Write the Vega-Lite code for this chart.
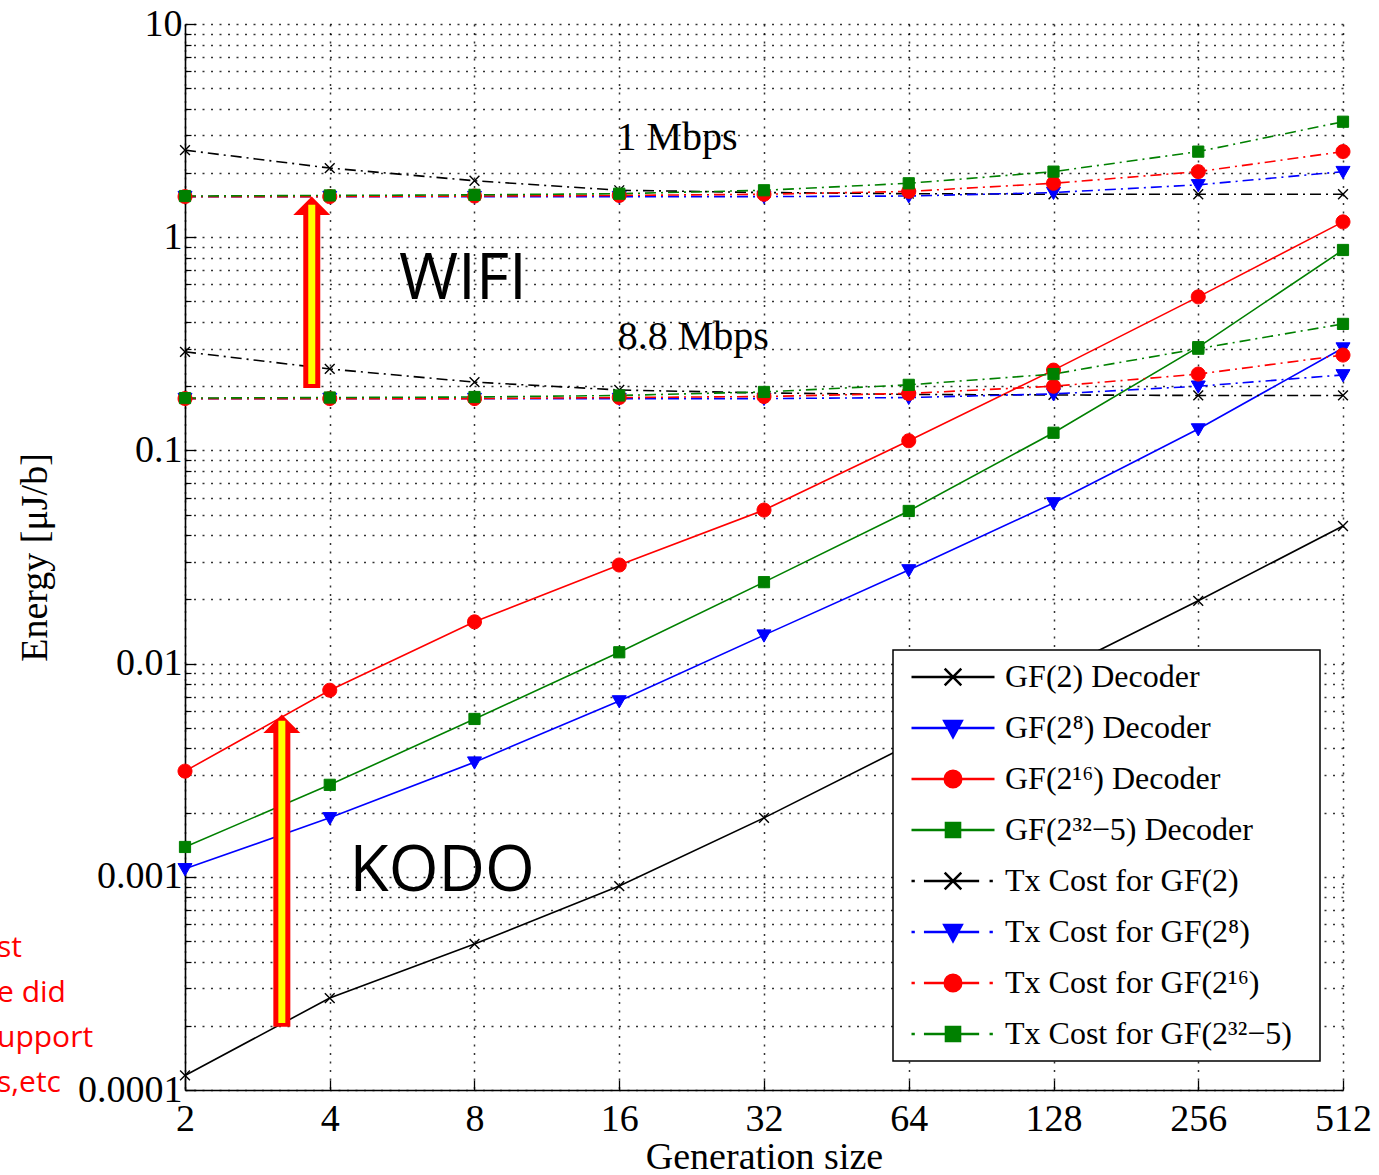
{
  "$schema": "https://vega.github.io/schema/vega-lite/v6.json",
  "width": 1158,
  "height": 1066,
  "autosize": {"type": "none"},
  "padding": {"left": 185, "top": 24, "right": 36, "bottom": 85},
  "background": "white",
  "config": {
    "view": {"stroke": null},
    "font": "Liberation Serif",
    "legend": {"strokeWidth": 1.5}
  },
  "datasets": {
    "series": [
      {"n": 2, "e": 0.000117, "s": "GF(2) Decoder", "r": "dec"},
      {"n": 4, "e": 0.00027, "s": "GF(2) Decoder", "r": "dec"},
      {"n": 8, "e": 0.000484, "s": "GF(2) Decoder", "r": "dec"},
      {"n": 16, "e": 0.000905, "s": "GF(2) Decoder", "r": "dec"},
      {"n": 32, "e": 0.00189, "s": "GF(2) Decoder", "r": "dec"},
      {"n": 64, "e": 0.00415, "s": "GF(2) Decoder", "r": "dec"},
      {"n": 128, "e": 0.00904, "s": "GF(2) Decoder", "r": "dec"},
      {"n": 256, "e": 0.0197, "s": "GF(2) Decoder", "r": "dec"},
      {"n": 512, "e": 0.0442, "s": "GF(2) Decoder", "r": "dec"},
      {"n": 2, "e": 0.00109, "s": "GF(2⁸) Decoder", "r": "dec"},
      {"n": 4, "e": 0.00189, "s": "GF(2⁸) Decoder", "r": "dec"},
      {"n": 8, "e": 0.00345, "s": "GF(2⁸) Decoder", "r": "dec"},
      {"n": 16, "e": 0.00668, "s": "GF(2⁸) Decoder", "r": "dec"},
      {"n": 32, "e": 0.0136, "s": "GF(2⁸) Decoder", "r": "dec"},
      {"n": 64, "e": 0.0275, "s": "GF(2⁸) Decoder", "r": "dec"},
      {"n": 128, "e": 0.0567, "s": "GF(2⁸) Decoder", "r": "dec"},
      {"n": 256, "e": 0.126, "s": "GF(2⁸) Decoder", "r": "dec"},
      {"n": 512, "e": 0.302, "s": "GF(2⁸) Decoder", "r": "dec"},
      {"n": 2, "e": 0.00313, "s": "GF(2¹⁶) Decoder", "r": "dec"},
      {"n": 4, "e": 0.0075, "s": "GF(2¹⁶) Decoder", "r": "dec"},
      {"n": 8, "e": 0.0157, "s": "GF(2¹⁶) Decoder", "r": "dec"},
      {"n": 16, "e": 0.029, "s": "GF(2¹⁶) Decoder", "r": "dec"},
      {"n": 32, "e": 0.0525, "s": "GF(2¹⁶) Decoder", "r": "dec"},
      {"n": 64, "e": 0.111, "s": "GF(2¹⁶) Decoder", "r": "dec"},
      {"n": 128, "e": 0.238, "s": "GF(2¹⁶) Decoder", "r": "dec"},
      {"n": 256, "e": 0.525, "s": "GF(2¹⁶) Decoder", "r": "dec"},
      {"n": 512, "e": 1.18, "s": "GF(2¹⁶) Decoder", "r": "dec"},
      {"n": 2, "e": 0.00138, "s": "GF(2³²−5) Decoder", "r": "dec"},
      {"n": 4, "e": 0.0027, "s": "GF(2³²−5) Decoder", "r": "dec"},
      {"n": 8, "e": 0.0055, "s": "GF(2³²−5) Decoder", "r": "dec"},
      {"n": 16, "e": 0.0113, "s": "GF(2³²−5) Decoder", "r": "dec"},
      {"n": 32, "e": 0.0241, "s": "GF(2³²−5) Decoder", "r": "dec"},
      {"n": 64, "e": 0.052, "s": "GF(2³²−5) Decoder", "r": "dec"},
      {"n": 128, "e": 0.121, "s": "GF(2³²−5) Decoder", "r": "dec"},
      {"n": 256, "e": 0.305, "s": "GF(2³²−5) Decoder", "r": "dec"},
      {"n": 512, "e": 0.871, "s": "GF(2³²−5) Decoder", "r": "dec"},
      {"n": 2, "e": 2.56, "s": "Tx Cost for GF(2)", "r": "1M"},
      {"n": 4, "e": 2.11, "s": "Tx Cost for GF(2)", "r": "1M"},
      {"n": 8, "e": 1.84, "s": "Tx Cost for GF(2)", "r": "1M"},
      {"n": 16, "e": 1.66, "s": "Tx Cost for GF(2)", "r": "1M"},
      {"n": 32, "e": 1.62, "s": "Tx Cost for GF(2)", "r": "1M"},
      {"n": 64, "e": 1.6, "s": "Tx Cost for GF(2)", "r": "1M"},
      {"n": 128, "e": 1.59, "s": "Tx Cost for GF(2)", "r": "1M"},
      {"n": 256, "e": 1.59, "s": "Tx Cost for GF(2)", "r": "1M"},
      {"n": 512, "e": 1.59, "s": "Tx Cost for GF(2)", "r": "1M"},
      {"n": 2, "e": 0.29, "s": "Tx Cost for GF(2)", "r": "8.8M"},
      {"n": 4, "e": 0.241, "s": "Tx Cost for GF(2)", "r": "8.8M"},
      {"n": 8, "e": 0.209, "s": "Tx Cost for GF(2)", "r": "8.8M"},
      {"n": 16, "e": 0.192, "s": "Tx Cost for GF(2)", "r": "8.8M"},
      {"n": 32, "e": 0.186, "s": "Tx Cost for GF(2)", "r": "8.8M"},
      {"n": 64, "e": 0.183, "s": "Tx Cost for GF(2)", "r": "8.8M"},
      {"n": 128, "e": 0.182, "s": "Tx Cost for GF(2)", "r": "8.8M"},
      {"n": 256, "e": 0.181, "s": "Tx Cost for GF(2)", "r": "8.8M"},
      {"n": 512, "e": 0.181, "s": "Tx Cost for GF(2)", "r": "8.8M"},
      {"n": 2, "e": 1.55, "s": "Tx Cost for GF(2⁸)", "r": "1M"},
      {"n": 4, "e": 1.55, "s": "Tx Cost for GF(2⁸)", "r": "1M"},
      {"n": 8, "e": 1.55, "s": "Tx Cost for GF(2⁸)", "r": "1M"},
      {"n": 16, "e": 1.55, "s": "Tx Cost for GF(2⁸)", "r": "1M"},
      {"n": 32, "e": 1.55, "s": "Tx Cost for GF(2⁸)", "r": "1M"},
      {"n": 64, "e": 1.56, "s": "Tx Cost for GF(2⁸)", "r": "1M"},
      {"n": 128, "e": 1.62, "s": "Tx Cost for GF(2⁸)", "r": "1M"},
      {"n": 256, "e": 1.76, "s": "Tx Cost for GF(2⁸)", "r": "1M"},
      {"n": 512, "e": 2.03, "s": "Tx Cost for GF(2⁸)", "r": "1M"},
      {"n": 2, "e": 0.175, "s": "Tx Cost for GF(2⁸)", "r": "8.8M"},
      {"n": 4, "e": 0.175, "s": "Tx Cost for GF(2⁸)", "r": "8.8M"},
      {"n": 8, "e": 0.175, "s": "Tx Cost for GF(2⁸)", "r": "8.8M"},
      {"n": 16, "e": 0.175, "s": "Tx Cost for GF(2⁸)", "r": "8.8M"},
      {"n": 32, "e": 0.175, "s": "Tx Cost for GF(2⁸)", "r": "8.8M"},
      {"n": 64, "e": 0.177, "s": "Tx Cost for GF(2⁸)", "r": "8.8M"},
      {"n": 128, "e": 0.184, "s": "Tx Cost for GF(2⁸)", "r": "8.8M"},
      {"n": 256, "e": 0.2, "s": "Tx Cost for GF(2⁸)", "r": "8.8M"},
      {"n": 512, "e": 0.226, "s": "Tx Cost for GF(2⁸)", "r": "8.8M"},
      {"n": 2, "e": 1.55, "s": "Tx Cost for GF(2¹⁶)", "r": "1M"},
      {"n": 4, "e": 1.55, "s": "Tx Cost for GF(2¹⁶)", "r": "1M"},
      {"n": 8, "e": 1.56, "s": "Tx Cost for GF(2¹⁶)", "r": "1M"},
      {"n": 16, "e": 1.57, "s": "Tx Cost for GF(2¹⁶)", "r": "1M"},
      {"n": 32, "e": 1.59, "s": "Tx Cost for GF(2¹⁶)", "r": "1M"},
      {"n": 64, "e": 1.64, "s": "Tx Cost for GF(2¹⁶)", "r": "1M"},
      {"n": 128, "e": 1.79, "s": "Tx Cost for GF(2¹⁶)", "r": "1M"},
      {"n": 256, "e": 2.03, "s": "Tx Cost for GF(2¹⁶)", "r": "1M"},
      {"n": 512, "e": 2.52, "s": "Tx Cost for GF(2¹⁶)", "r": "1M"},
      {"n": 2, "e": 0.175, "s": "Tx Cost for GF(2¹⁶)", "r": "8.8M"},
      {"n": 4, "e": 0.175, "s": "Tx Cost for GF(2¹⁶)", "r": "8.8M"},
      {"n": 8, "e": 0.175, "s": "Tx Cost for GF(2¹⁶)", "r": "8.8M"},
      {"n": 16, "e": 0.177, "s": "Tx Cost for GF(2¹⁶)", "r": "8.8M"},
      {"n": 32, "e": 0.179, "s": "Tx Cost for GF(2¹⁶)", "r": "8.8M"},
      {"n": 64, "e": 0.185, "s": "Tx Cost for GF(2¹⁶)", "r": "8.8M"},
      {"n": 128, "e": 0.2, "s": "Tx Cost for GF(2¹⁶)", "r": "8.8M"},
      {"n": 256, "e": 0.228, "s": "Tx Cost for GF(2¹⁶)", "r": "8.8M"},
      {"n": 512, "e": 0.28, "s": "Tx Cost for GF(2¹⁶)", "r": "8.8M"},
      {"n": 2, "e": 1.56, "s": "Tx Cost for GF(2³²−5)", "r": "1M"},
      {"n": 4, "e": 1.57, "s": "Tx Cost for GF(2³²−5)", "r": "1M"},
      {"n": 8, "e": 1.58, "s": "Tx Cost for GF(2³²−5)", "r": "1M"},
      {"n": 16, "e": 1.6, "s": "Tx Cost for GF(2³²−5)", "r": "1M"},
      {"n": 32, "e": 1.66, "s": "Tx Cost for GF(2³²−5)", "r": "1M"},
      {"n": 64, "e": 1.79, "s": "Tx Cost for GF(2³²−5)", "r": "1M"},
      {"n": 128, "e": 2.03, "s": "Tx Cost for GF(2³²−5)", "r": "1M"},
      {"n": 256, "e": 2.52, "s": "Tx Cost for GF(2³²−5)", "r": "1M"},
      {"n": 512, "e": 3.48, "s": "Tx Cost for GF(2³²−5)", "r": "1M"},
      {"n": 2, "e": 0.176, "s": "Tx Cost for GF(2³²−5)", "r": "8.8M"},
      {"n": 4, "e": 0.177, "s": "Tx Cost for GF(2³²−5)", "r": "8.8M"},
      {"n": 8, "e": 0.178, "s": "Tx Cost for GF(2³²−5)", "r": "8.8M"},
      {"n": 16, "e": 0.181, "s": "Tx Cost for GF(2³²−5)", "r": "8.8M"},
      {"n": 32, "e": 0.188, "s": "Tx Cost for GF(2³²−5)", "r": "8.8M"},
      {"n": 64, "e": 0.203, "s": "Tx Cost for GF(2³²−5)", "r": "8.8M"},
      {"n": 128, "e": 0.228, "s": "Tx Cost for GF(2³²−5)", "r": "8.8M"},
      {"n": 256, "e": 0.3, "s": "Tx Cost for GF(2³²−5)", "r": "8.8M"},
      {"n": 512, "e": 0.392, "s": "Tx Cost for GF(2³²−5)", "r": "8.8M"}
    ],
    "arrows": [
      {"x": 3.67, "yb": 0.196, "yi": 0.205, "yh": 1.27, "yt": 1.42},
      {"x": 3.18, "yb": 0.000198, "yi": 0.000206, "yh": 0.00472, "yt": 0.0054}
    ],
    "rates": [
      {"x": 21.1, "y": 2.92, "t": "1 Mbps"},
      {"x": 22.8, "y": 0.34, "t": "8.8 Mbps"}
    ],
    "big": [
      {"x": 7.57, "y": 0.63, "t": "WIFI"},
      {"x": 6.85, "y": 0.001054, "t": "KODO"}
    ],
    "notes": [
      {"x": 0.813, "y": 0.000464, "t": "st"},
      {"x": 0.813, "y": 0.000285, "t": "e did"},
      {"x": 0.813, "y": 0.000175, "t": "upport"},
      {"x": 0.813, "y": 0.000108, "t": "s,etc"}
    ]
  },
  "layer": [
    {
      "data": {"name": "series"},
      "transform": [{"filter": "false"}],
      "mark": {"type": "point", "filled": true, "opacity": 1, "strokeWidth": 2.5},
      "encoding": {
        "x": {
          "field": "n", "type": "quantitative",
          "scale": {"type": "log", "base": 2, "domain": [2, 512], "nice": false},
          "axis": {
            "values": [2, 4, 8, 16, 32, 64, 128, 256, 512],
            "format": "d",
            "labelFont": "Liberation Serif", "labelFontSize": 38, "labelColor": "black",
            "labelFlush": false, "labelOverlap": false, "labelPadding": 20,
            "tickSize": -10, "tickColor": "black", "tickWidth": 1.3,
            "domainColor": "black", "domainWidth": 1.6,
            "grid": true, "gridDash": [2, 6.5], "gridColor": "black", "gridOpacity": 0.8, "gridWidth": 1.5,
            "title": "Generation size",
            "titleFont": "Liberation Serif", "titleFontSize": 38, "titleFontWeight": "normal", "titleColor": "black",
            "titleY": 67, "titleBaseline": "middle"
          }
        },
        "y": {
          "field": "e", "type": "quantitative",
          "scale": {"type": "log", "domain": [0.0001, 10], "nice": false},
          "axis": {
            "orient": "left",
            "values": [0.0001, 0.001, 0.01, 0.1, 1, 10],
            "format": "~g",
            "labelFont": "Liberation Serif", "labelFontSize": 38, "labelColor": "black",
            "labelOverlap": false, "labelPadding": 14, "labelFlush": false,
            "tickSize": -11, "tickColor": "black", "tickWidth": 1.3,
            "domainColor": "black", "domainWidth": 1.6,
            "grid": true, "gridDash": [2, 6.5], "gridColor": "black", "gridOpacity": 0.8, "gridWidth": 1.5,
            "title": "Energy [μJ/b]",
            "titleFont": "Liberation Serif", "titleFontSize": 38, "titleFontWeight": "normal", "titleColor": "black",
            "titleX": -150, "titleY": 533, "titleAngle": -90, "titleAlign": "center", "titleBaseline": "middle"
          }
        },
        "fill": {
          "field": "s", "type": "nominal",
          "scale": {
            "domain": ["GF(2) Decoder", "GF(2⁸) Decoder", "GF(2¹⁶) Decoder", "GF(2³²−5) Decoder", "Tx Cost for GF(2)", "Tx Cost for GF(2⁸)", "Tx Cost for GF(2¹⁶)", "Tx Cost for GF(2³²−5)"],
            "range": ["#000000", "#0000ff", "#ff0000", "#008000", "#000000", "#0000ff", "#ff0000", "#008000"]
          },
          "legend": {
            "orient": "none", "legendX": 708, "legendY": 626,
            "title": null,
            "labelFont": "Liberation Serif", "labelFontSize": 32, "labelColor": "black", "labelLimit": 600,
            "labelExpr": "datum.label + '\u2800'",
            "symbolSize": 6889, "symbolStrokeWidth": 2.5, "symbolOpacity": 1,
            "clipHeight": 44, "rowPadding": 7,
            "padding": 5, "symbolOffset": 12, "labelOffset": 9,
            "strokeColor": "black", "fillColor": "white"
          }
        },
        "stroke": {
          "field": "s", "type": "nominal",
          "scale": {
            "domain": ["GF(2) Decoder", "GF(2⁸) Decoder", "GF(2¹⁶) Decoder", "GF(2³²−5) Decoder", "Tx Cost for GF(2)", "Tx Cost for GF(2⁸)", "Tx Cost for GF(2¹⁶)", "Tx Cost for GF(2³²−5)"],
            "range": ["#000000", "#0000ff", "#ff0000", "#008000", "#000000", "#0000ff", "#ff0000", "#008000"]
          }
        },
        "shape": {
          "field": "s", "type": "nominal",
          "scale": {
            "domain": ["GF(2) Decoder", "GF(2⁸) Decoder", "GF(2¹⁶) Decoder", "GF(2³²−5) Decoder", "Tx Cost for GF(2)", "Tx Cost for GF(2⁸)", "Tx Cost for GF(2¹⁶)", "Tx Cost for GF(2³²−5)"],
            "range": [
              "M-1,0H1M-0.2,-0.2L0.2,0.2M-0.2,0.2L0.2,-0.2",
              "M-1,0H1M-0.21,-0.17L0.21,-0.17L0,0.22Z",
              "M-1,0H1M0.2,0A0.2,0.2,0,1,1,-0.2,0A0.2,0.2,0,1,1,0.2,0Z",
              "M-1,0H1M-0.17,-0.17H0.17V0.17H-0.17Z",
              "M-1,0H-0.92M-0.7,0H0.63M0.88,0H0.96M-0.2,-0.2L0.2,0.2M-0.2,0.2L0.2,-0.2",
              "M-1,0H-0.92M-0.7,0H0.63M0.88,0H0.96M-0.21,-0.17L0.21,-0.17L0,0.22Z",
              "M-1,0H-0.92M-0.7,0H0.63M0.88,0H0.96M0.2,0A0.2,0.2,0,1,1,-0.2,0A0.2,0.2,0,1,1,0.2,0Z",
              "M-1,0H-0.92M-0.7,0H0.63M0.88,0H0.96M-0.17,-0.17H0.17V0.17H-0.17Z"
            ]
          }
        }
      }
    },
    {
      "data": {"name": "series"},
      "transform": [{"filter": "datum.r === 'dec'"}],
      "mark": {"type": "line", "strokeWidth": 1.6},
      "encoding": {
        "x": {"field": "n", "type": "quantitative"},
        "y": {"field": "e", "type": "quantitative", "axis": null},
        "stroke": {"field": "s", "type": "nominal"}
      }
    },
    {
      "data": {"name": "series"},
      "transform": [{"filter": "datum.r !== 'dec'"}],
      "mark": {"type": "line", "strokeWidth": 1.6, "strokeDash": [11, 5, 2, 5]},
      "encoding": {
        "x": {"field": "n", "type": "quantitative"},
        "y": {
          "field": "e", "type": "quantitative",
          "axis": {
            "orient": "left",
            "values": [0.0002, 0.0003, 0.0004, 0.0005, 0.0006, 0.0007, 0.0008, 0.0009, 0.002, 0.003, 0.004, 0.005, 0.006, 0.007, 0.008, 0.009, 0.02, 0.03, 0.04, 0.05, 0.06, 0.07, 0.08, 0.09, 0.2, 0.3, 0.4, 0.5, 0.6, 0.7, 0.8, 0.9, 2, 3, 4, 5, 6, 7, 8, 9],
            "labels": false, "domain": false, "title": null,
            "tickSize": -6, "tickColor": "black", "tickWidth": 1.2,
            "grid": true, "gridDash": [2, 6.5], "gridColor": "black", "gridOpacity": 0.8, "gridWidth": 1.5
          }
        },
        "stroke": {"field": "s", "type": "nominal"},
        "detail": {"field": "r", "type": "nominal"}
      }
    },
    {
      "data": {"name": "series"},
      "transform": [{"filter": "datum.s === 'GF(2) Decoder' || datum.s === 'Tx Cost for GF(2)'"}],
      "mark": {"type": "point", "shape": "M-0.7,-0.7L0.7,0.7M-0.7,0.7L0.7,-0.7", "opacity": 1, "strokeWidth": 1.4, "size": 196},
      "encoding": {
        "x": {"field": "n", "type": "quantitative"},
        "y": {"field": "e", "type": "quantitative", "axis": null},
        "fill": {"field": "s", "type": "nominal"},
        "stroke": {"field": "s", "type": "nominal"}
      }
    },
    {
      "data": {"name": "series"},
      "transform": [{"filter": "datum.s === 'GF(2⁸) Decoder' || datum.s === 'Tx Cost for GF(2⁸)'"}],
      "mark": {"type": "point", "shape": "M-1,-0.75L1,-0.75L0,1Z", "opacity": 1, "strokeWidth": 1, "size": 196},
      "encoding": {
        "x": {"field": "n", "type": "quantitative"},
        "y": {"field": "e", "type": "quantitative", "axis": null},
        "fill": {"field": "s", "type": "nominal"},
        "stroke": {"field": "s", "type": "nominal"}
      }
    },
    {
      "data": {"name": "series"},
      "transform": [{"filter": "datum.s === 'GF(2¹⁶) Decoder' || datum.s === 'Tx Cost for GF(2¹⁶)'"}],
      "mark": {"type": "point", "shape": "M1,0A1,1,0,1,1,-1,0A1,1,0,1,1,1,0Z", "opacity": 1, "strokeWidth": 1, "size": 196},
      "encoding": {
        "x": {"field": "n", "type": "quantitative"},
        "y": {"field": "e", "type": "quantitative", "axis": null},
        "fill": {"field": "s", "type": "nominal"},
        "stroke": {"field": "s", "type": "nominal"}
      }
    },
    {
      "data": {"name": "series"},
      "transform": [{"filter": "datum.s === 'GF(2³²−5) Decoder' || datum.s === 'Tx Cost for GF(2³²−5)'"}],
      "mark": {"type": "point", "shape": "M-0.8,-0.8H0.8V0.8H-0.8Z", "opacity": 1, "strokeWidth": 1, "size": 196},
      "encoding": {
        "x": {"field": "n", "type": "quantitative"},
        "y": {"field": "e", "type": "quantitative", "axis": null},
        "fill": {"field": "s", "type": "nominal"},
        "stroke": {"field": "s", "type": "nominal"}
      }
    },
    {
      "data": {"name": "arrows"},
      "mark": {"type": "rule", "color": "#ff0000", "strokeWidth": 17},
      "encoding": {
        "x": {"field": "x", "type": "quantitative"},
        "y": {"field": "yb", "type": "quantitative", "axis": null},
        "y2": {"field": "yh"}
      }
    },
    {
      "data": {"name": "arrows"},
      "mark": {"type": "point", "shape": "M-1,0L1,0L0,-1Z", "size": 1369, "filled": true, "color": "#ff0000", "opacity": 1},
      "encoding": {
        "x": {"field": "x", "type": "quantitative"},
        "y": {"field": "yh", "type": "quantitative", "axis": null}
      }
    },
    {
      "data": {"name": "arrows"},
      "mark": {"type": "rule", "color": "#ffff00", "strokeWidth": 7},
      "encoding": {
        "x": {"field": "x", "type": "quantitative"},
        "y": {"field": "yi", "type": "quantitative", "axis": null},
        "y2": {"field": "yt"}
      }
    },
    {
      "data": {"name": "rates"},
      "mark": {"type": "text", "font": "Liberation Serif", "fontSize": 40, "color": "black", "align": "center", "baseline": "middle"},
      "encoding": {
        "x": {"field": "x", "type": "quantitative"},
        "y": {"field": "y", "type": "quantitative", "axis": null},
        "text": {"field": "t"}
      }
    },
    {
      "data": {"name": "big"},
      "mark": {"type": "text", "font": "Open Sans", "fontSize": 64, "color": "black", "align": "center", "baseline": "middle"},
      "encoding": {
        "x": {"field": "x", "type": "quantitative"},
        "y": {"field": "y", "type": "quantitative", "axis": null},
        "text": {"field": "t"}
      }
    },
    {
      "data": {"name": "notes"},
      "mark": {"type": "text", "font": "Open Sans", "fontSize": 30, "color": "#ff0000", "align": "left", "baseline": "middle"},
      "encoding": {
        "x": {"field": "x", "type": "quantitative"},
        "y": {"field": "y", "type": "quantitative", "axis": null},
        "text": {"field": "t"}
      }
    }
  ],
  "resolve": {"axis": {"y": "independent"}}
}
